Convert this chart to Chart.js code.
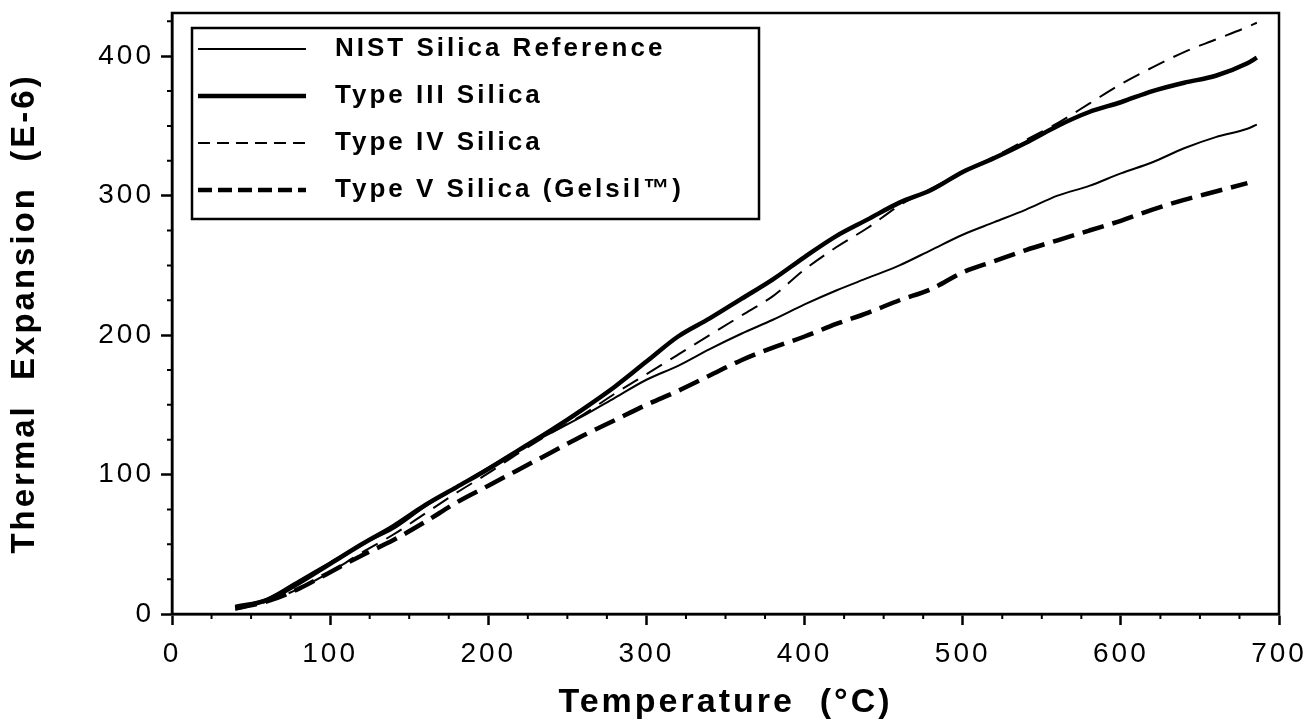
<!DOCTYPE html>
<html>
<head>
<meta charset="utf-8">
<script src="https://cdn.jsdelivr.net/npm/chart.js@4"></script>
<style>
  html, body { margin: 0; padding: 0; background: #fff; }
  #wrap { width: 1309px; height: 724px; }
</style>
</head>
<body>
<div id="wrap"><canvas id="expansion_chart"></canvas></div>
<script>
// temperature (°C) and expansion (E-6) for each silica type
const temps = [40, 60, 80, 100, 120, 140, 160, 180, 200, 220, 240, 260, 280, 300, 320, 340, 360, 380, 400, 420, 440, 460, 480, 500, 520, 540, 560, 580, 600, 620, 640, 660, 680, 686];
const nist = [5, 11, 24, 37, 50, 61, 77, 91, 105, 118, 130, 142, 155, 168, 178, 190, 201, 211, 222, 232, 241, 250, 261, 272, 281, 290, 300, 307, 316, 324, 334, 342, 348, 351];
const typeIII = [5, 10, 22, 36, 50, 63, 78, 91, 104, 118, 132, 147, 163, 181, 199, 212, 226, 240, 256, 271, 283, 295, 304, 317, 327, 338, 350, 360, 367, 375, 381, 386, 395, 399];
const typeIV = [3, 9, 18, 30, 44, 57, 72, 87, 101, 116, 130, 143, 158, 172, 186, 200, 214, 228, 247, 263, 277, 293, 305, 317, 328, 340, 352, 366, 380, 392, 403, 412, 421, 424];
const typeV = [4, 9, 18, 30, 42, 53, 66, 80, 92, 104, 116, 128, 139, 150, 160, 171, 182, 191, 199, 208, 216, 225, 233, 245, 253, 261, 268, 275, 282, 290, 297, 303, 309, null];

const xMax = 700;
const yMax = 431;
const minorStep = 25;
const legendShift = { x: 5, y: 15 };
const sampleLen = 108;
const sampleBox = 124;

const pts = (vals) => temps.map((t, i) => ({ x: t, y: vals[i] }));

Chart.defaults.font.family = "'Liberation Sans', Arial, sans-serif";
Chart.defaults.color = "#000";

// legend sample: dash pattern over sampleLen, then blank up to the label
const sampleDash = (dash) => {
  if (!dash.length) return [sampleLen, 200];
  const out = [];
  let len = 0;
  while (len + dash[0] + dash[1] < sampleLen) {
    out.push(dash[0], dash[1]);
    len += dash[0] + dash[1];
  }
  out.push(Math.min(dash[0], sampleLen - len), 200);
  return out;
};

// wide lettering for every label on the canvas
const spacing = {
  id: "spacing",
  beforeLayout(chart) { chart.ctx.letterSpacing = "3px"; },
  beforeDraw(chart) { chart.ctx.letterSpacing = "3px"; },
  afterLayout(chart) {
    // move the legend down/right inside the plot
    const lg = chart.legend;
    lg.left += legendShift.x;
    lg.right += legendShift.x;
    lg.top += legendShift.y;
    lg.bottom += legendShift.y;
    (lg.legendHitBoxes || []).forEach((h) => {
      h.left += legendShift.x;
      h.top += legendShift.y;
    });
  },
};

// box around the plot, minor ticks and the legend frame
const frame = {
  id: "frame",
  afterDraw(chart) {
    const { ctx, chartArea: a, scales } = chart;
    ctx.save();
    ctx.strokeStyle = "#000";
    ctx.lineWidth = 2.5;
    ctx.strokeRect(a.left, a.top, a.right - a.left, a.bottom - a.top);

    ctx.lineWidth = 2;
    ctx.beginPath();
    for (let v = minorStep; v < xMax; v += minorStep) {
      if (v % 100 === 0) continue;
      const px = scales.x.getPixelForValue(v);
      ctx.moveTo(px, a.bottom);
      ctx.lineTo(px, a.bottom + 5);
    }
    for (let v = minorStep; v < yMax; v += minorStep) {
      if (v % 100 === 0) continue;
      const py = scales.y.getPixelForValue(v);
      ctx.moveTo(a.left, py);
      ctx.lineTo(a.left - 5, py);
    }
    ctx.stroke();

    const hb = chart.legend.legendHitBoxes;
    if (hb && hb.length) {
      const last = hb[hb.length - 1];
      const left = hb[0].left - 11;
      const top = hb[0].top - 8;
      const right = left + 567;
      const bottom = last.top + last.height + 16;
      ctx.lineWidth = 2.5;
      ctx.strokeRect(left, top, right - left, bottom - top);
    }
    ctx.restore();
  },
};

const line = (label, vals, width, dash, keyDash) => ({
  label: label,
  data: pts(vals),
  borderColor: "#000",
  backgroundColor: "#000",
  borderWidth: width,
  borderDash: dash,
  keyDash: keyDash,
  pointRadius: 0,
  fill: false,
  cubicInterpolationMode: "monotone",
});

const datasets = [
  line("NIST Silica Reference", nist, 2, [], []),
  line("Type III Silica", typeIII, 4.5, [], []),
  line("Type IV Silica", typeIV, 2, [18, 10], [12, 7]),
  line("Type V Silica (Gelsil™)", typeV, 4.5, [22, 9], [14, 6]),
];

new Chart(document.getElementById("expansion_chart"), {
  type: "line",
  data: { datasets: datasets },
  options: {
    responsive: true,
    maintainAspectRatio: false,
    animation: false,
    layout: {
      padding: { top: 13, right: 30, left: 0, bottom: 0 },
    },
    plugins: {
      tooltip: { enabled: false },
      legend: {
        position: "chartArea",
        align: "start",
        labels: {
          usePointStyle: true,
          pointStyle: "line",
          pointStyleWidth: sampleBox,
          padding: 21,
          color: "#000",
          font: { size: 26, weight: "bold" },
          generateLabels: (chart) =>
            Chart.defaults.plugins.legend.labels.generateLabels(chart).map((item, i) => ({
              ...item,
              lineDash: sampleDash(chart.data.datasets[i].keyDash),
              lineWidth: chart.data.datasets[i].borderWidth,
            })),
        },
      },
    },
    scales: {
      x: {
        type: "linear",
        min: 0,
        max: xMax,
        afterFit: (s) => {
          s.height = 110;
          s.paddingLeft = 0;
          s.paddingRight = 0;
        },
        afterBuildTicks: (s) => { s.ticks = s.ticks.filter((t) => t.value % 100 === 0); },
        ticks: { stepSize: 100, autoSkip: false, maxRotation: 0, padding: 12, font: { size: 28 } },
        grid: { drawOnChartArea: false, tickLength: 11, tickWidth: 2.5, tickColor: "#000" },
        border: { color: "#000", width: 2.5 },
        title: {
          display: true,
          text: "Temperature  (°C)",
          font: { size: 34, weight: "bold" },
          padding: { top: 0, bottom: 1 },
        },
      },
      y: {
        min: 0,
        max: yMax,
        afterFit: (s) => {
          s.width = 172;
          s.paddingTop = 0;
          s.paddingBottom = 0;
        },
        afterBuildTicks: (s) => { s.ticks = s.ticks.filter((t) => t.value % 100 === 0); },
        ticks: { stepSize: 100, padding: 7, font: { size: 28 } },
        grid: { drawOnChartArea: false, tickLength: 11, tickWidth: 2.5, tickColor: "#000" },
        border: { color: "#000", width: 2.5 },
        title: {
          display: true,
          text: "Thermal  Expansion  (E-6)",
          font: { size: 33, weight: "bold" },
          padding: { top: 5, bottom: 0 },
        },
      },
    },
  },
  plugins: [spacing, frame],
});
</script>
</body>
</html>
